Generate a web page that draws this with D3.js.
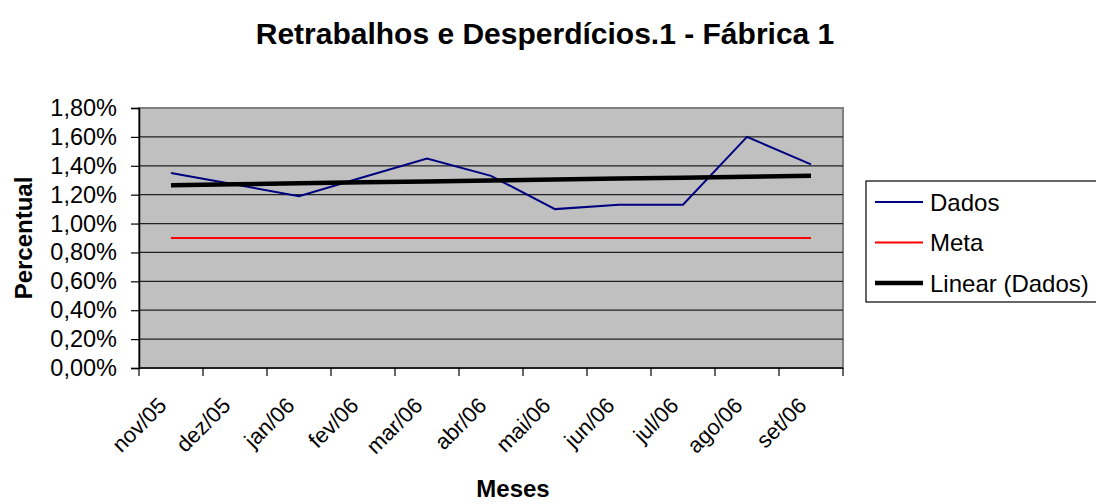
<!DOCTYPE html>
<html>
<head>
<meta charset="utf-8">
<script src="https://cdn.jsdelivr.net/npm/d3@7"></script>
<style>
  body { margin: 0; background: #fff; }
  text { font-family: "Liberation Sans", Arial, sans-serif; fill: #000; }
</style>
</head>
<body>
<div id="chart"></div>
<script>
var svgWidth = 1096;
var svgHeight = 504;

// data
var months = ["nov/05", "dez/05", "jan/06", "fev/06", "mar/06", "abr/06",
  "mai/06", "jun/06", "jul/06", "ago/06", "set/06"];
var dados = [1.35, 1.27, 1.19, 1.32, 1.45, 1.33, 1.10, 1.13, 1.13, 1.60, 1.41];
var meta = [0.90, 0.90, 0.90, 0.90, 0.90, 0.90, 0.90, 0.90, 0.90, 0.90, 0.90];
var yTicks = [0, 0.2, 0.4, 0.6, 0.8, 1.0, 1.2, 1.4, 1.6, 1.8];

var margin = { top: 108, left: 139, right: 253, bottom: 136 };
var width = svgWidth - margin.left - margin.right;
var height = svgHeight - margin.top - margin.bottom;

var svg = d3.select("#chart").append("svg")
  .attr("width", svgWidth).attr("height", svgHeight);

var chartGroup = svg.append("g")
  .attr("transform", `translate(${margin.left}, ${margin.top})`);

var xScale = d3.scaleBand().domain(months).range([0, width]);
var yScale = d3.scaleLinear().domain([0, 1.8]).range([height, 0]);

// plot area
chartGroup.append("rect")
  .attr("width", width).attr("height", height)
  .attr("fill", "#c0c0c0").attr("stroke", "#808080").attr("stroke-width", 2);

// gridlines
chartGroup.selectAll(".grid")
  .data(yTicks.slice(1, -1))
  .enter().append("line")
  .attr("x1", 0).attr("x2", width)
  .attr("y1", d => yScale(d)).attr("y2", d => yScale(d))
  .attr("stroke", "#222").attr("stroke-width", 1.2);

// y axis
var leftAxis = d3.axisLeft(yScale).tickValues(yTicks).tickSize(8).tickPadding(14)
  .tickFormat(d => d3.format(".2f")(d).replace(".", ",") + "%");
var yAxis = chartGroup.append("g").call(leftAxis);
yAxis.select(".domain").attr("stroke", "#000").attr("stroke-width", 1.5);
yAxis.selectAll(".tick line").attr("stroke", "#000").attr("stroke-width", 1.2);
yAxis.selectAll("text").attr("font-size", 23.5).attr("font-family", "Liberation Sans, Arial, sans-serif")
  .attr("fill", "#000");

// x axis: ticks at category boundaries
var xAxisG = chartGroup.append("g").attr("transform", `translate(0, ${height})`);
xAxisG.append("line").attr("x1", 0).attr("x2", width).attr("stroke", "#000").attr("stroke-width", 1.5);
var bounds = months.map(m => xScale(m)).concat([width]);
xAxisG.selectAll(".xt").data(bounds).enter().append("line")
  .attr("x1", d => d).attr("x2", d => d).attr("y1", 0).attr("y2", 8)
  .attr("stroke", "#000").attr("stroke-width", 1.2);
xAxisG.selectAll(".xl").data(months).enter().append("text")
  .attr("transform", d => `translate(${xScale(d) + xScale.bandwidth() / 2 - 14}, 28) rotate(-45)`)
  .attr("text-anchor", "end")
  .attr("dy", "0.7em")
  .attr("font-size", 22)
  .text(d => d);

var cx = d => xScale(d) + xScale.bandwidth() / 2;

// trend line (least squares over dados)
var mx = d3.mean(dados, (d, i) => i);
var my = d3.mean(dados);
var slope = d3.sum(dados, (d, i) => (i - mx) * (d - my)) / d3.sum(dados, (d, i) => (i - mx) * (i - mx));
var trend = months.map((m, i) => my + slope * (i - mx));

var line = d3.line().x((d, i) => cx(months[i])).y(d => yScale(d));

chartGroup.append("path").datum(meta).attr("d", line)
  .attr("fill", "none").attr("stroke", "#ff0000").attr("stroke-width", 2);
chartGroup.append("path").datum(dados).attr("d", line)
  .attr("fill", "none").attr("stroke", "#000080").attr("stroke-width", 2);
chartGroup.append("path").datum(trend).attr("d", line)
  .attr("fill", "none").attr("stroke", "#000").attr("stroke-width", 4.5);

// title
svg.append("text")
  .attr("x", 545).attr("y", 44)
  .attr("text-anchor", "middle")
  .attr("font-size", 30).attr("font-weight", "bold")
  .text("Retrabalhos e Desperdícios.1 - Fábrica 1");

// axis titles
svg.append("text")
  .attr("transform", `translate(32, ${margin.top + height / 2}) rotate(-90)`)
  .attr("text-anchor", "middle")
  .attr("font-size", 24).attr("font-weight", "bold")
  .text("Percentual");
svg.append("text")
  .attr("x", 513).attr("y", 497)
  .attr("text-anchor", "middle")
  .attr("font-size", 24).attr("font-weight", "bold")
  .text("Meses");

// legend
var legendItems = [
  { name: "Dados", color: "#000080", w: 2 },
  { name: "Meta", color: "#ff0000", w: 2 },
  { name: "Linear (Dados)", color: "#000", w: 4.5 }
];
var legend = svg.append("g").attr("transform", "translate(866, 181)");
legend.append("rect").attr("width", 240).attr("height", 121)
  .attr("fill", "#fff").attr("stroke", "#000").attr("stroke-width", 1.2);
var li = legend.selectAll(".li").data(legendItems).enter().append("g")
  .attr("transform", (d, i) => `translate(0, ${21 + i * 40.5})`);
li.append("line").attr("x1", 9).attr("x2", 57)
  .attr("stroke", d => d.color).attr("stroke-width", d => d.w);
li.append("text").attr("x", 64).attr("dy", "0.36em")
  .attr("font-size", 24).text(d => d.name);
</script>
</body>
</html>
